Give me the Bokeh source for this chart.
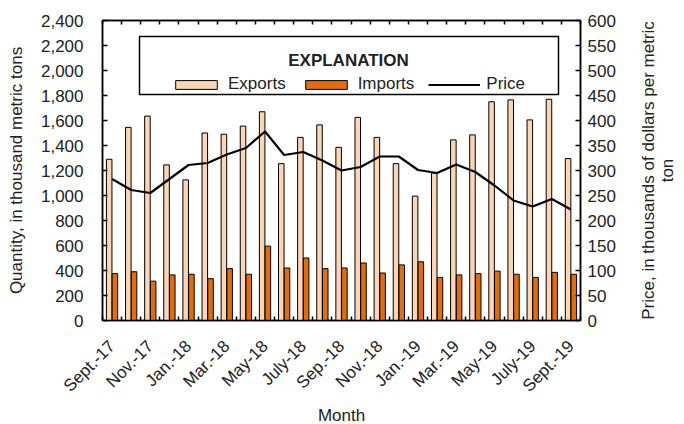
import math
from bokeh.plotting import figure
from bokeh.layouts import row
from bokeh.core.properties import value
from bokeh.models import (ColumnDataSource, Range1d, LinearAxis, FixedTicker,
                          NumeralTickFormatter, Legend, LegendItem, BoxAnnotation, Label)
from bokeh.transform import dodge
from bokeh.embed import file_html
from bokeh.resources import INLINE

# ---- data ----
months = ["Sept.-17", "Oct.-17", "Nov.-17", "Dec.-17", "Jan.-18", "Feb.-18", "Mar.-18",
          "Apr.-18", "May-18", "June-18", "July-18", "Aug.-18", "Sep.-18", "Oct.-18",
          "Nov.-18", "Dec.-18", "Jan.-19", "Feb.-19", "Mar.-19", "Apr.-19", "May-19",
          "June-19", "July-19", "Aug.-19", "Sept.-19"]
exports = [1290, 1545, 1635, 1245, 1125, 1500, 1490, 1555, 1670, 1255, 1465, 1565, 1385,
           1625, 1465, 1255, 995, 1180, 1445, 1485, 1750, 1765, 1605, 1770, 1295]
imports = [375, 390, 315, 365, 370, 335, 415, 370, 595, 420, 500, 415, 420,
           460, 380, 445, 470, 345, 365, 375, 395, 370, 345, 385, 370]
price = [283, 261, 255, 283, 311, 315, 332, 345, 378, 331, 337, 320, 300,
         307, 328, 328, 301, 295, 312, 297, 270, 240, 228, 243, 222]
qty_ticks = list(range(0, 2401, 200))
price_ticks = list(range(0, 601, 50))
right_title_lines = ["Price, in thousands of dollars per metric", "ton"]

FONT = "Liberation Sans"
FS = "17px"
n = len(months)
idx = list(range(n))
src = ColumnDataSource(dict(x=idx, month=months, exports=exports, imports=imports, price=price))

p = figure(frame_width=478, frame_height=300, output_backend="svg", toolbar_location=None,
           x_range=Range1d(-0.5, n - 0.5), y_range=Range1d(0, 2400),
           min_border_left=102, min_border_right=50, min_border_top=20, min_border_bottom=104)
p.xgrid.visible = False
p.ygrid.visible = False
p.outline_line_color = "black"
p.outline_line_width = 1.5
p.background_fill_color = "white"
p.border_fill_color = "white"

p.extra_y_ranges = {"price": Range1d(0, 600)}

boundaries = [i - 0.5 for i in range(n + 1)]
label_pos = idx[::2]

def style_axis(ax):
    ax.axis_line_color = "black"
    ax.axis_line_width = 1.5
    ax.major_tick_line_color = "black"
    ax.major_tick_line_width = 1.5
    ax.minor_tick_line_color = "black"
    ax.minor_tick_line_width = 1.5
    ax.major_label_text_font = FONT
    ax.major_label_text_font_size = FS
    ax.major_label_text_color = "#222222"
    ax.axis_label_text_font = FONT
    ax.axis_label_text_font_size = FS
    ax.axis_label_text_font_style = "normal"
    ax.axis_label_text_color = "#222222"

# left axis
ly = p.yaxis[0]
ly.ticker = FixedTicker(ticks=qty_ticks)
ly.formatter = NumeralTickFormatter(format="0,0")
ly.major_tick_in = 5
ly.major_tick_out = 0
ly.minor_tick_in = 0
ly.minor_tick_out = 0
ly.major_label_standoff = 19
ly.axis_label = "Quantity, in thousand metric tons"
ly.axis_label_standoff = 12
style_axis(ly)

# bottom axis
bx = p.xaxis[0]
bx.ticker = FixedTicker(ticks=label_pos, minor_ticks=boundaries)
bx.major_label_overrides = {i: months[i] for i in label_pos}
bx.major_label_orientation = math.pi / 4
bx.major_tick_in = 0
bx.major_tick_out = 0
bx.minor_tick_in = 4
bx.minor_tick_out = 0
bx.major_label_standoff = 23
bx.axis_label = "Month"
bx.axis_label_standoff = 1
style_axis(bx)

# right axis (title drawn in a narrow side figure so it reads bottom-to-top)
ry = LinearAxis(y_range_name="price", ticker=FixedTicker(ticks=price_ticks))
ry.major_tick_in = 5
ry.major_tick_out = 0
ry.minor_tick_in = 0
ry.minor_tick_out = 0
ry.major_label_standoff = 7
style_axis(ry)
p.add_layout(ry, "right")

# top axis (ticks only)
tx = LinearAxis(ticker=FixedTicker(ticks=[], minor_ticks=boundaries))
tx.major_tick_in = 0
tx.major_tick_out = 0
tx.minor_tick_in = 4
tx.minor_tick_out = 0
tx.major_label_standoff = 0
style_axis(tx)
tx.major_label_text_font_size = "0px"
p.add_layout(tx, "above")

# bars and line
r_exp = p.vbar(x=dodge("x", -0.15), top="exports", width=0.29, source=src,
               fill_color="#FCD5B5", line_color="black", line_width=1)
r_imp = p.vbar(x=dodge("x", 0.15), top="imports", width=0.29, source=src,
               fill_color="#E46C0A", line_color="black", line_width=1)
r_pr = p.line("x", "price", source=src, y_range_name="price", line_color="black", line_width=2.2)

# legend box
box = BoxAnnotation(left=37, right=456, bottom=226, top=284,
                    left_units="screen", right_units="screen",
                    top_units="screen", bottom_units="screen",
                    fill_color="white", fill_alpha=1, line_color="black",
                    line_alpha=1, line_width=1.5)
p.add_layout(box)

title = Label(x=246, y=260, x_units="screen", y_units="screen", text="EXPLANATION",
              text_align="center", text_baseline="middle", text_font=FONT,
              text_font_size=FS, text_font_style="bold", text_color="#222222")
p.add_layout(title)

legend = Legend(items=[LegendItem(label="Exports", renderers=[r_exp]),
                       LegendItem(label="Imports", renderers=[r_imp]),
                       LegendItem(label="Price", renderers=[r_pr])],
                orientation="horizontal", location=(68, 226),
                glyph_width=52, glyph_height=11, label_standoff=6, spacing=14,
                padding=0, margin=0, border_line_color=None,
                background_fill_alpha=0, label_text_font=FONT,
                label_text_font_size=FS, label_text_color="#222222")
p.add_layout(legend)

# narrow side figure holding the right axis title (frame aligned with main frame)
side_w = 684 - (102 + 478 + 50)
s = figure(frame_width=side_w, frame_height=300, output_backend="svg", toolbar_location=None,
           x_range=Range1d(0, side_w), y_range=Range1d(0, 300),
           x_axis_location=None, y_axis_location=None,
           min_border_left=0, min_border_right=0, min_border_top=20, min_border_bottom=104)
s.xgrid.visible = False
s.ygrid.visible = False
s.outline_line_color = None
s.background_fill_color = "white"
s.border_fill_color = "white"
s.text(x=[18, 37], y=[150, 150], text=right_title_lines, angle=math.pi / 2,
       text_align="center", text_baseline="alphabetic", text_font=value(FONT),
       text_font_size=FS, text_color="#222222")

layout = row(p, s, spacing=0)
open("out.html", "w").write(file_html(layout, INLINE))
